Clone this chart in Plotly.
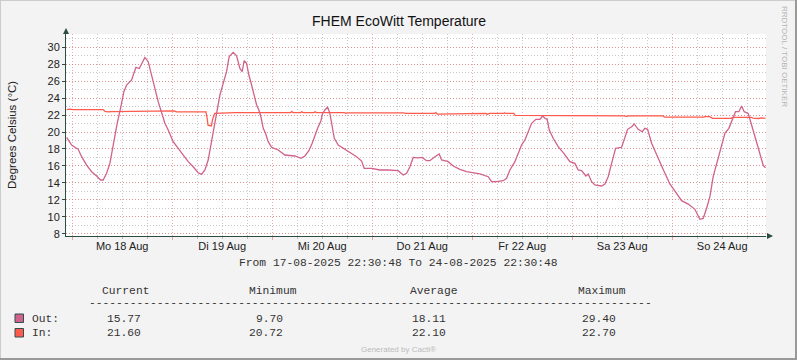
import pandas as pd
import plotly.graph_objects as go

# ---------------- data (hours since 2025-08-18 00:00) ----------------
out_hours = [-1.34, -0.14, 1.44, 2.26, 3.46, 4.66, 5.86, 6.82, 7.44, 8.26, 9.05, 9.84, 10.8, 11.6,
             12.4, 13.06, 14.26, 14.8, 15.3, 16.1, 16.66, 17.45, 18.24, 19.05, 19.85, 20.64, 21.46,
             22.25, 23.04, 24.24, 25.44, 26.64, 27.84, 29.04, 30.24, 31.05, 31.85, 32.64, 33.2, 34.0,
             34.66, 35.45, 36.24, 37.05, 37.68, 38.64, 39.45, 40.25, 40.8, 41.28, 41.85, 42.4, 43.06,
             43.68, 44.26, 44.8, 45.29, 45.85, 46.4, 47.04, 47.86, 49.44, 51.05, 53.45, 54.9, 55.85,
             56.8, 57.6, 58.25, 58.9, 59.7, 60.1, 60.65, 61.3, 61.85, 62.4, 62.9, 63.85, 65.04, 66.65,
             68.26, 69.46, 70.08, 71.86, 73.85, 75.84, 78.24, 79.44, 80.26, 81.05, 81.84, 83.04, 84.0,
             85.05, 85.85, 87.05, 88.08, 88.66, 90.24, 91.44, 93.05, 94.66, 96.24, 97.85, 99.84,
             100.66, 101.86, 103.44, 104.26, 105.05, 106.25, 107.04, 107.86, 108.65, 109.44, 110.26,
             111.29, 112.25, 112.9, 113.45, 114.0, 114.5, 115.44, 116.64, 118.0, 119.45, 120.65,
             121.44, 122.26, 123.29, 123.85, 124.66, 125.45, 127.06, 127.85, 128.64, 129.46, 130.42,
             131.86, 132.48, 133.3, 134.26, 134.88, 135.84, 136.8, 137.45, 138.1, 139.06, 140.26,
             141.29, 142.25, 143.45, 144.65, 146.26, 147.85, 149.45, 150.65, 151.44, 152.26, 153.05,
             153.84, 154.66, 155.69, 156.65, 157.6, 158.4, 159.2, 160.0, 160.66, 161.28, 162.24,
             163.06, 164.26, 165.29, 165.84, 166.4]
out_temp = [19.38, 18.47, 17.96, 17.09, 16.1, 15.32, 14.81, 14.34, 14.34, 15.13, 16.3, 18.67, 21.03, 22.8,
            24.76, 25.55, 26.14, 26.93, 27.64, 27.5, 28.1, 28.8, 28.3, 26.53, 25.16, 23.58, 22.2,
            21.03, 20.24, 18.86, 18.08, 17.29, 16.5, 15.9, 15.2, 15.0, 15.52, 16.7, 18.27, 20.24,
            22.2, 24.37, 25.75, 27.12, 28.9, 29.4, 29.0, 27.5, 27.12, 28.42, 28.1, 26.73, 25.55,
            24.17, 23.19, 22.6, 21.8, 20.44, 19.85, 18.86, 18.2, 17.88, 17.29, 17.17, 16.9, 17.17,
            17.8, 18.67, 19.65, 20.44, 21.34, 22.2, 22.6, 22.92, 22.2, 20.63, 19.26, 18.47, 18.08, 17.56,
            17.09, 16.58, 15.72, 15.72, 15.52, 15.52, 15.44, 14.93, 15.13, 15.9, 17.0, 16.96, 17.0,
            16.62, 16.62, 17.09, 17.41, 16.7, 16.5, 15.99, 15.6, 15.32, 15.2, 15.05, 14.73,
            14.14, 14.14, 14.26, 14.54, 15.52, 16.5, 17.49, 18.47, 19.06, 20.04, 21.03,
            21.5, 21.5, 21.89, 21.62, 21.5, 20.24, 19.26, 18.27, 17.49, 16.5, 16.3,
            15.52, 15.44, 14.81, 15.05, 14.14, 13.75, 13.63, 13.87, 14.73, 16.3, 18.08,
            18.2, 19.06, 20.32, 20.63, 20.95, 20.32, 20.04, 20.44, 20.32, 18.67, 17.29,
            16.3, 15.13, 13.87, 13.08, 11.9, 11.5, 10.88, 9.7, 9.8, 11.0, 12.37,
            14.73, 16.3, 18.27, 19.85, 20.44, 21.42, 22.4, 22.4, 23.07, 22.4, 22.2,
            20.83, 18.86, 17.29, 16.1, 15.77]

in_hours = [-1.34, -0.6, 0.2, 7.4, 7.9, 8.6, 9.4, 24.0, 24.5, 25.0, 32.1, 32.4, 32.6, 33.4, 33.7, 34.2,
            37.0, 39.0, 52.4, 52.7, 53.0, 54.8, 55.1, 55.4, 58.0, 58.3, 58.6, 65.3, 65.6, 66.0, 79.6,
            80.0, 87.0, 87.3, 87.6, 90.1, 90.4, 99.3, 99.6, 100.2, 103.5, 103.8, 104.2, 106.0, 106.3,
            132.0, 132.4, 133.0, 133.6, 141.8, 142.2, 151.6, 151.9, 153.0, 153.7, 158.2, 158.5, 163.0,
            163.4, 164.8, 165.4, 166.4]
in_temp = [22.65, 22.7, 22.65, 22.65, 22.45, 22.38, 22.42, 22.42, 22.5, 22.38, 22.38, 21.6, 20.8, 20.72,
           21.5, 22.2, 22.25, 22.28, 22.3, 22.42, 22.3, 22.3, 22.4, 22.3, 22.3, 22.4, 22.3, 22.3, 22.2,
           22.25, 22.25, 22.2, 22.2, 22.3, 22.12, 22.12, 22.2, 22.2, 22.1, 22.2, 22.2, 22.25, 22.2,
           22.2, 21.97, 21.97, 21.9, 21.85, 21.9, 21.9, 21.75, 21.75, 21.82, 21.82, 21.62, 21.62,
           21.73, 21.73, 21.65, 21.6, 21.68, 21.6]

day_labels = ["Mo 18 Aug", "Di 19 Aug", "Mi 20 Aug", "Do 21 Aug", "Fr 22 Aug", "Sa 23 Aug", "So 24 Aug"]
y_ticks = [8, 10, 12, 14, 16, 18, 20, 22, 24, 26, 28, 30]

stat_headers = ["Current", "Minimum", "Average", "Maximum"]
out_stats = ["15.77", "9.70", "18.11", "29.40"]
in_stats = ["21.60", "20.72", "22.10", "22.70"]

t_start = "2025-08-17 22:30:48"
t_end = "2025-08-24 22:30:48"
base = pd.Timestamp("2025-08-18 00:00:00")

OUT_COLOR = "#D0628C"
IN_COLOR = "#FF5A4C"
AXIS_COLOR = "#2C4D43"
MAJ_GRID = "rgba(235,110,110,0.6)"
MIN_GRID = "#C8C8C8"
GRID_DASH = "1px,2px"

out_t = [base + pd.Timedelta(hours=h) for h in out_hours]
in_t = [base + pd.Timedelta(hours=h) for h in in_hours]
label_t = [base + pd.Timedelta(hours=12 + 24 * i) for i in range(len(day_labels))]

W, H = 797, 360
L, R, T, B = 66, 31, 34, 124
PW, PH = W - L - R, H - T - B

def px(x):
    return (x - L) / PW

def py(y):
    return (H - B - y) / PH

fig = go.Figure()
fig.add_trace(go.Scatter(x=in_t, y=in_temp, mode="lines", line=dict(color=IN_COLOR, width=1.3),
                         name="In", hoverinfo="skip"))
fig.add_trace(go.Scatter(x=out_t, y=out_temp, mode="lines", line=dict(color=OUT_COLOR, width=1.3),
                         name="Out", hoverinfo="skip"))
fig.add_trace(go.Scatter(x=label_t, y=[None] * len(label_t), xaxis="x2", mode="lines",
                         showlegend=False, hoverinfo="skip"))

SANS = "Liberation Sans, Arial, sans-serif"
MONO = "Liberation Mono, Courier New, monospace"

fig.update_layout(
    width=W, height=H,
    margin=dict(l=L, r=R, t=T, b=B, pad=0, autoexpand=False),
    paper_bgcolor="#F3F3F3",
    plot_bgcolor="#FFFFFF",
    showlegend=False,
    xaxis=dict(
        type="date", range=[t_start, t_end], automargin=False,
        tick0="2025-08-18", dtick=86400000,
        showgrid=True, gridcolor=MAJ_GRID, griddash=GRID_DASH, gridwidth=1,
        showticklabels=False, ticks="outside", ticklen=3, tickcolor=MAJ_GRID,
        minor=dict(dtick=21600000, tick0="2025-08-18", showgrid=True, gridcolor=MIN_GRID,
                   griddash=GRID_DASH, gridwidth=1, ticks="outside", ticklen=2, tickcolor="#BBBBBB"),
        showline=True, linecolor=AXIS_COLOR, linewidth=1, zeroline=False,
    ),
    xaxis2=dict(
        type="date", range=[t_start, t_end], overlaying="x", anchor="y", side="bottom",
        automargin=False,
        tickmode="array", tickvals=label_t, ticktext=day_labels,
        showgrid=False, showline=False, ticks="", zeroline=False,
        tickfont=dict(family=SANS, size=11, color="#222222"),
        ticklabelstandoff=2,
    ),
    yaxis=dict(
        range=[7.73, 31.57], tickmode="array", tickvals=y_ticks, automargin=False,
        showgrid=True, gridcolor=MAJ_GRID, griddash=GRID_DASH, gridwidth=1,
        minor=dict(dtick=1, tick0=0, showgrid=True, gridcolor=MIN_GRID, griddash=GRID_DASH, gridwidth=1),
        ticks="outside", ticklen=3, tickcolor=AXIS_COLOR,
        tickfont=dict(family=SANS, size=11, color="#222222"),
        showline=True, linecolor=AXIS_COLOR, linewidth=1, zeroline=False,
    ),
)

ann = []
def text(x, y, s, size=11, family=SANS, color="#222222", xanchor="center", angle=0):
    ann.append(dict(x=px(x), y=py(y), xref="paper", yref="paper", text=s, showarrow=False,
                    xanchor=xanchor, yanchor="middle", textangle=angle,
                    font=dict(family=family, size=size, color=color)))

text(399, 21, "FHEM EcoWitt Temperature", size=14, color="#111111")
text(12, 135, "Degrees Celsius (°C)", size=11.5, angle=-90)
text(785, 56, "RRDTOOL / TOBI OETIKER", size=8, color="#B5B5B5", angle=90)
text(398, 263, "From 17-08-2025 22:30:48 To 24-08-2025 22:30:48", size=11.3, family=MONO, color="#333333")

head_x = [100, 246.7, 408.3, 576]
for hx, s in zip(head_x, stat_headers):
    text(hx, 290.5, s, size=11.3, family=MONO, xanchor="left", color="#333333")
text(86.7, 302.5, "-" * 83, size=11.3, family=MONO, xanchor="left", color="#333333")

text(30, 319, "Out:", size=11.3, family=MONO, xanchor="left", color="#333333")
text(30, 332.5, "In:", size=11.3, family=MONO, xanchor="left", color="#333333")
val_right = [143.3, 285.3, 448, 618]
for vx, s in zip(val_right, out_stats):
    text(vx, 319, s, size=11.3, family=MONO, xanchor="right", color="#333333")
for vx, s in zip(val_right, in_stats):
    text(vx, 332.5, s, size=11.3, family=MONO, xanchor="right", color="#333333")

text(398, 349, "Generated by Cacti®", size=8, color="#BBBBBB")

# axis arrows
ann.append(dict(x=px(773), y=py(H - B), xref="paper", yref="paper", ax=-7, ay=0, text="",
                showarrow=True, arrowhead=2, arrowsize=1.2, arrowwidth=1, arrowcolor=AXIS_COLOR,
                standoff=0, startstandoff=0))
ann.append(dict(x=px(L), y=py(28), xref="paper", yref="paper", ax=0, ay=7, text="",
                showarrow=True, arrowhead=2, arrowsize=1.2, arrowwidth=1, arrowcolor=AXIS_COLOR,
                standoff=0, startstandoff=0))
fig.update_layout(annotations=ann)

shapes = []
# legend swatches
for (y0, y1), c in zip([(314, 322.5), (328.5, 337)], [OUT_COLOR, IN_COLOR]):
    shapes.append(dict(type="rect", xref="paper", yref="paper", x0=px(15), x1=px(23.5),
                       y0=py(y1), y1=py(y0), fillcolor=c, line=dict(color="#2F4F4F", width=1)))
# canvas frame
shapes.append(dict(type="line", xref="paper", yref="paper", x0=px(0), x1=px(W), y0=py(0.5), y1=py(0.5),
                   line=dict(color="#CCCCCC", width=1)))
shapes.append(dict(type="line", xref="paper", yref="paper", x0=px(0.5), x1=px(0.5), y0=py(0), y1=py(H),
                   line=dict(color="#CCCCCC", width=1)))
shapes.append(dict(type="line", xref="paper", yref="paper", x0=px(0), x1=px(W), y0=py(H - 1), y1=py(H - 1),
                   line=dict(color="#999999", width=2)))
shapes.append(dict(type="line", xref="paper", yref="paper", x0=px(W - 1), x1=px(W - 1), y0=py(0), y1=py(H),
                   line=dict(color="#999999", width=2)))
# y axis line extension up to arrow
shapes.append(dict(type="line", xref="paper", yref="paper", x0=0, x1=0, y0=1, y1=py(30),
                   line=dict(color=AXIS_COLOR, width=1)))
fig.update_layout(shapes=shapes)

fig.write_html("out.html", config={"displayModeBar": False},
               post_script="document.body.style.margin='0';document.body.style.overflow='hidden';")
